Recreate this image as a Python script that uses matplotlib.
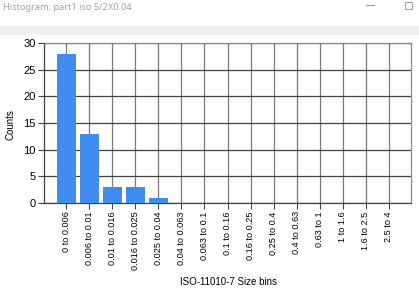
import matplotlib
matplotlib.use("Agg")
import matplotlib.pyplot as plt
from matplotlib.patches import Rectangle
from matplotlib.lines import Line2D

categories = ["0 to 0.006", "0.006 to 0.01", "0.01 to 0.016", "0.016 to 0.025",
              "0.025 to 0.04", "0.04 to 0.063", "0.063 to 0.1", "0.1 to 0.16",
              "0.16 to 0.25", "0.25 to 0.4", "0.4 to 0.63", "0.63 to 1",
              "1 to 1.6", "1.6 to 2.5", "2.5 to 4"]
counts = [28, 13, 3, 3, 1, 0, 0, 0, 0, 0, 0, 0, 0, 0, 0]
yticks = [0, 5, 10, 15, 20, 25, 30]

W, H = 419, 294
fig = plt.figure(figsize=(W / 100, H / 100), dpi=100)
fig.patch.set_facecolor("white")

def fx(px):
    return px / W

def fy(py):
    return 1 - py / H

# window chrome
fig.text(fx(3), fy(8), "Histogram: part1 iso 5/2X0.04", fontsize=6.6, color="#a0a0a0",
         family="Noto Sans", va="center", ha="left")
fig.add_artist(Line2D([fx(366), fx(374)], [fy(5), fy(5)], color="#a0a0a0", lw=0.8,
                      transform=fig.transFigure))
fig.add_artist(Rectangle((fx(405), fy(9)), 7 / W, 7 / H, fill=False, ec="#a0a0a0",
                         lw=0.8, transform=fig.transFigure))
fig.add_artist(Rectangle((0, fy(35)), 1, 9 / H, fc="#f0f0f0", ec="none",
                         transform=fig.transFigure))

ax = fig.add_axes([fx(44), fy(203), (411 - 44) / W, (203 - 43) / H])
x = list(range(len(categories)))
ax.bar(x, counts, width=0.8, color="#418CF0", zorder=3)
ax.set_xlim(-0.97, len(categories) - 0.03)
ax.set_ylim(0, 30)
ax.set_yticks(yticks)
ax.set_xticks(x)
ax.set_xticklabels(categories, rotation=90, fontsize=6.6, family="Liberation Sans")
for lab in ax.get_yticklabels():
    lab.set_fontsize(8)
    lab.set_family("Liberation Sans")
ax.tick_params(axis="both", direction="out", length=4, width=0.8, color="#404040", pad=2)
ax.grid(axis="x", color="#7a7a7a", lw=0.9, zorder=0)
ax.grid(axis="y", color="#404040", lw=0.9, zorder=0)
ax.set_axisbelow(True)
for s in ["left", "bottom"]:
    ax.spines[s].set_color("#404040")
    ax.spines[s].set_linewidth(0.9)
for s in ["top", "right"]:
    ax.spines[s].set_color("#8a8a8a")
    ax.spines[s].set_linewidth(0.9)

fig.text(fx(10), fy(125), "Counts", rotation=90, fontsize=7, family="Liberation Sans",
         ha="center", va="center")
fig.text(fx(228), fy(282), "ISO-11010-7 Size bins", fontsize=7, family="Liberation Sans",
         ha="center", va="center")

fig.savefig("out.png", dpi=100)
